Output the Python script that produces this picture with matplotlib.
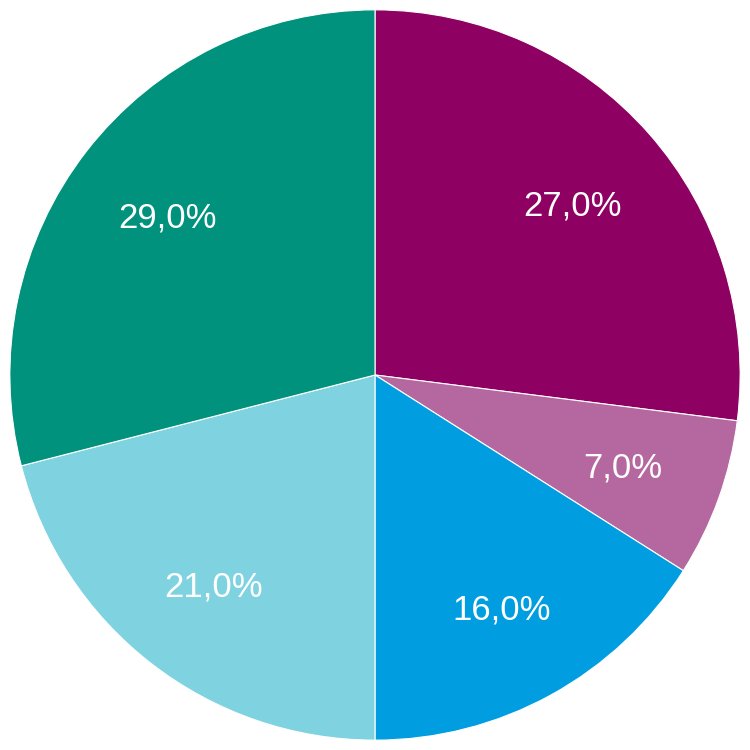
import matplotlib
matplotlib.use('Agg')
import matplotlib.pyplot as plt

plt.rcParams['font.family'] = ['Liberation Sans', 'DejaVu Sans']

# valores do gráfico (sentido horário a partir do topo)
valores = [27.0, 7.0, 16.0, 21.0, 29.0]
cores = ['#8E0061', '#B5689F', '#009EE0', '#7FD3E0', '#00927C']

fig = plt.figure(figsize=(7.5, 7.5), dpi=100)
ax = fig.add_axes([0, 0, 1, 1])

wedges, textos, pcts = ax.pie(valores, colors=cores, startangle=90, counterclock=False,
       autopct=lambda p: f'{p:.1f}%'.replace('.', ','),
       pctdistance=0.72, radius=1.0,
       wedgeprops={'linewidth': 0.8, 'edgecolor': 'white'},
       textprops={'color': 'white', 'fontsize': 25})

for t in pcts:
    x, y = t.get_position()
    t.set_position((x, y - 0.012))

ax.set_xlim(-1.027, 1.027)
ax.set_ylim(-1.027, 1.027)
ax.set_aspect('equal')
ax.axis('off')

plt.savefig('out.png', dpi=100)
